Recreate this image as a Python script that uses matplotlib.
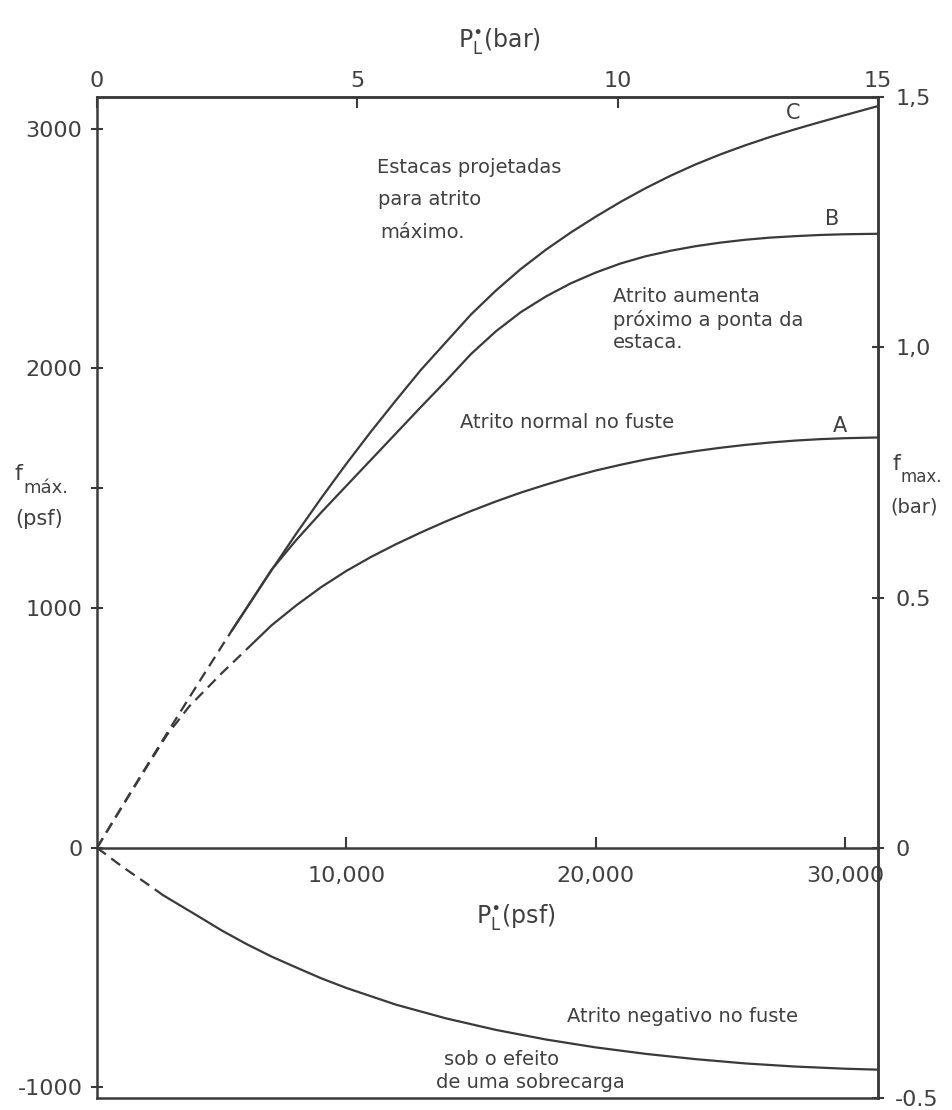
import matplotlib
matplotlib.use("Agg")
import matplotlib.pyplot as plt
from matplotlib.lines import Line2D

# ---------------- data (psf) ----------------
PSF_PER_BAR = 2088.5

# curve C (pile designed for maximum friction)
c_dash_x = [0, 1000, 2000, 3000, 4000, 5000, 5400]
c_dash_y = [0, 172, 342, 510, 676, 840, 905]
c_x = [5400, 6000, 7000, 8000, 9000, 10000, 11000, 12000, 13000, 14000, 15000,
       16000, 17000, 18000, 19000, 20000, 21000, 22000, 23000, 24000, 25000,
       26000, 27000, 28000, 29000, 30000, 31328]
c_y = [905, 1000, 1158, 1312, 1460, 1602, 1738, 1868, 1995, 2110, 2225,
       2325, 2415, 2495, 2567, 2633, 2695, 2752, 2804, 2851, 2893,
       2931, 2966, 2998, 3028, 3057, 3095]

# curve B (friction increases near pile tip)
b_x = [5400, 6000, 7000, 8000, 9000, 10000, 11000, 12000, 13000, 14000, 15000,
       16000, 17000, 18000, 19000, 20000, 21000, 22000, 23000, 24000, 25000,
       26000, 27000, 28000, 29000, 30000, 31328]
b_y = [905, 1000, 1160, 1285, 1400, 1510, 1620, 1730, 1840, 1948, 2060,
       2155, 2235, 2300, 2355, 2400, 2438, 2468, 2491, 2510, 2525,
       2537, 2546, 2552, 2557, 2560, 2562]

# curve A (normal shaft friction)
a_dash_x = [0, 1000, 2000, 2800, 3700, 5000, 6100]
a_dash_y = [0, 170, 338, 470, 590, 728, 838]
a_x = [6100, 7000, 8000, 9000, 10000, 11000, 12000, 13000, 14000, 15000,
       16000, 17000, 18000, 19000, 20000, 21000, 22000, 23000, 24000, 25000,
       26000, 27000, 28000, 29000, 30000, 31328]
a_y = [838, 928, 1012, 1088, 1155, 1214, 1267, 1316, 1362, 1405,
       1445, 1482, 1515, 1546, 1574, 1598, 1620, 1639, 1655, 1669,
       1681, 1691, 1699, 1705, 1709, 1712]

# negative skin friction
n_dash_x = [0, 1000, 2000, 2650]
n_dash_y = [0, -78, -150, -198]
n_x = [2650, 4000, 5000, 6000, 7000, 8000, 9000, 10000, 12000, 14000, 16000,
       18000, 20000, 22000, 24000, 26000, 28000, 30000, 31328]
n_y = [-198, -282, -345, -402, -454, -500, -545, -585, -655, -712, -760,
       -800, -833, -860, -882, -900, -913, -922, -926]

x_ticks = [10000, 20000, 30000]
x_ticklabels = ["10,000", "20,000", "30,000"]
y_ticks = [-1000, 0, 1000, 1500, 2000, 3000]
y_ticklabels = ["-1000", "0", "1000", "", "2000", "3000"]
top_ticks = [0, 5, 10, 15]
top_ticklabels = ["0", "5", "10", "15"]
right_ticks = [-0.5, 0, 0.5, 1.0, 1.5]
right_ticklabels = ["-0.5", "0", "0.5", "1,0", "1,5"]

# ---------------- style ----------------
INK = "#3a3a3a"
TXT = "#404040"
plt.rcParams["font.family"] = ["DejaVu Sans"]

W, H = 952, 1110
fig = plt.figure(figsize=(W / 100, H / 100), dpi=100)
L, R, T, B = 97, 878, 97, 1098
ax = fig.add_axes([L / W, (H - B) / H, (R - L) / W, (B - T) / H])
ax.set_xlim(0, 15 * PSF_PER_BAR)
ax.set_ylim(-0.5 * PSF_PER_BAR, 1.5 * PSF_PER_BAR)

lw = 1.6
dash = (5, 3)
for xs, ys in [(c_dash_x, c_dash_y), (a_dash_x, a_dash_y), (n_dash_x, n_dash_y)]:
    ax.plot(xs, ys, color=INK, lw=lw, linestyle=(0, dash),
            dash_joinstyle="round")
for xs, ys in [(c_x, c_y), (b_x, b_y), (a_x, a_y), (n_x, n_y)]:
    ax.plot(xs, ys, color=INK, lw=lw, solid_joinstyle="round",
            solid_capstyle="round")

# spines
for s in ax.spines.values():
    s.set_color(INK)
    s.set_linewidth(1.8)
ax.spines["bottom"].set_position(("data", 0))
ax.add_line(Line2D([0, 1], [0, 0], transform=ax.transAxes, color=INK,
                   lw=1.8, clip_on=False))

ax.set_xticks(x_ticks)
ax.set_xticklabels(x_ticklabels)
ax.tick_params(axis="x", direction="in", length=8, width=1.5, colors=INK,
               labelcolor=TXT, labelsize=16, pad=13)
ax.set_yticks(y_ticks)
ax.set_yticklabels(y_ticklabels)
ax.tick_params(axis="y", direction="inout", length=9, width=1.5, colors=INK,
               labelcolor=TXT, labelsize=16, pad=6)

secx = ax.secondary_xaxis("top", functions=(lambda p: p / PSF_PER_BAR,
                                             lambda b: b * PSF_PER_BAR))
secx.set_xticks(top_ticks)
secx.set_xticklabels(top_ticklabels)
secx.tick_params(direction="in", length=8, width=1.5, colors=INK,
                 labelcolor=TXT, labelsize=16, pad=4)
secx.spines["top"].set_color(INK)
secx.spines["top"].set_linewidth(1.8)

secy = ax.secondary_yaxis("right", functions=(lambda p: p / PSF_PER_BAR,
                                               lambda b: b * PSF_PER_BAR))
secy.set_yticks(right_ticks)
secy.set_yticklabels(right_ticklabels)
secy.tick_params(direction="inout", length=9, width=1.5, colors=INK,
                 labelcolor=TXT, labelsize=16, pad=8)
secy.spines["right"].set_color(INK)
secy.spines["right"].set_linewidth(1.8)

# axis labels
fig.text(0.525, 0.963, r"$\mathregular{P_L^{\bullet}}$(bar)", ha="center",
         va="center", fontsize=17, color=TXT)
ax.text(16800, -290, r"$\mathregular{P_L^{\bullet}}$(psf)", ha="center",
        va="center", fontsize=17, color=TXT)
ytr = ax.get_yaxis_transform()
ax.text(-0.105, 1560, "f", transform=ytr, ha="left", va="center",
        fontsize=16, color=TXT)
ax.text(-0.094, 1500, "máx.", transform=ytr, ha="left", va="center",
        fontsize=13, color=TXT)
ax.text(-0.105, 1370, "(psf)", transform=ytr, ha="left", va="center",
        fontsize=15, color=TXT)
ax.text(1.018, 1600, "f", transform=ytr, ha="left", va="center",
        fontsize=16, color=TXT)
ax.text(1.029, 1545, "max.", transform=ytr, ha="left", va="center",
        fontsize=12, color=TXT)
ax.text(1.016, 1420, "(bar)", transform=ytr, ha="left", va="center",
        fontsize=14, color=TXT)

# annotations
ann = dict(fontsize=14, color=TXT, va="center", ha="left")
ax.text(11231, 2838, "Estacas projetadas", **ann)
ax.text(11270, 2704, "para atrito", **ann)
ax.text(11350, 2566, "máximo.", **ann)
ax.text(20697, 2299, "Atrito aumenta", **ann)
ax.text(20697, 2203, "próximo a ponta da", **ann)
ax.text(20697, 2107, "estaca.", **ann)
ax.text(14560, 1773, "Atrito normal no fuste", **ann)
ax.text(18852, -705, "Atrito negativo no fuste", **ann)
ax.text(13900, -885, "sob o efeito", **ann)
ax.text(13600, -981, "de uma sobrecarga", **ann)
ax.text(29802, 1760, "A", fontsize=15, color=TXT, ha="center", va="center")
ax.text(29481, 2625, "B", fontsize=15, color=TXT, ha="center", va="center")
ax.text(27917, 3065, "C", fontsize=15, color=TXT, ha="center", va="center")

fig.savefig("out.png", dpi=100, facecolor="white")
